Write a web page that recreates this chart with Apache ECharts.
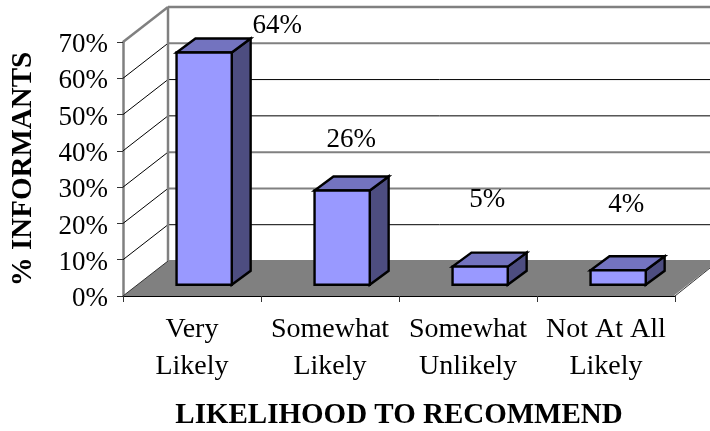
<!DOCTYPE html>
<html><head><meta charset="utf-8">
<style>html,body{margin:0;padding:0;background:#fff}#c{width:710px;height:431px}</style>
<script src="https://cdn.jsdelivr.net/npm/echarts@6/dist/echarts.min.js"></script>
</head><body><div id="c"></div>
<script>
const categories = ['Very\nLikely', 'Somewhat\nLikely', 'Somewhat\nUnlikely', 'Not At All\nLikely'];
const values = [64, 26, 5, 4];
const valueLabels = ['64%', '26%', '5%', '4%'];
const yTicks = [0, 10, 20, 30, 40, 50, 60, 70];

const FONT = '"Liberation Serif","Times New Roman",serif';
const DX = 45, DY = 35;
const BAR_D0 = 0.27, BAR_D1 = 0.69, BAR_W = 0.4, BAR_LIFT = 11.2;
const labelOffsets = [[73, -28], [9, -52], [7, -69], [8, -67]];
const greyLines = {0: 1, 30: 1, 20: 1, 60: 1, 70: 1};

function poly(points, fill, stroke, lw) {
  return {type: 'polygon', shape: {points}, style: {fill, stroke: stroke || null, lineWidth: lw || 0, lineJoin: 'miter'}};
}
function line(a, b, stroke, lw) {
  return {type: 'line', shape: {x1: a[0], y1: a[1], x2: b[0], y2: b[1]}, style: {stroke, lineWidth: lw}};
}
const chart = echarts.init(document.getElementById('c'));
chart.setOption({
  animation: false,
  backgroundColor: '#fff',
  grid: {left: 123, right: 35, top: 42, bottom: 135, outerBoundsMode: 'none'},
  xAxis: {
    type: 'category', data: categories, z: 6,
    name: 'LIKELIHOOD TO RECOMMEND', nameLocation: 'middle', nameGap: 105,
    nameTextStyle: {fontFamily: FONT, fontWeight: 'bold', fontSize: 29, color: '#000'},
    axisLine: {show: true, lineStyle: {color: '#000', width: 1}},
    axisTick: {show: true, length: 6, lineStyle: {color: '#333', width: 1}},
    axisLabel: {interval: 0, fontFamily: FONT, fontSize: 28, lineHeight: 37, color: '#000', margin: 15},
    splitLine: {show: false}
  },
  yAxis: {
    type: 'value', min: 0, max: 70, interval: 10,
    name: '% INFORMANTS', nameLocation: 'middle', nameGap: 85, nameRotate: 90,
    nameTextStyle: {fontFamily: FONT, fontWeight: 'bold', fontSize: 29, color: '#000'},
    axisLine: {show: true, lineStyle: {color: '#808080', width: 2.5}},
    axisTick: {show: true, length: 6, lineStyle: {color: '#333', width: 1}},
    axisLabel: {formatter: '{value}%', fontFamily: FONT, fontSize: 27, color: '#000', margin: 15, verticalAlign: 'top', lineHeight: 6},
    splitLine: {show: false}
  },
  series: [
    { // floor
      type: 'custom', z: 1, silent: true, clip: false, data: [[0, 0]],
      renderItem(p, api) {
        const w = api.size([1, 0])[0];
        const l = api.coord([0, 0]), r = api.coord([categories.length - 1, 0]);
        const x0 = l[0] - w / 2, x1 = r[0] + w / 2, y = l[1];
        return {type: 'group', children: [
          poly([[x0, y], [x1, y], [x1 + DX, y - DY], [x0 + DX, y - DY]], '#808080'),
          line([x1, y], [x1 + DX, y - DY], '#fff', 2),
          line([x1, y], [x1 + DX, y - DY - 1], '#333', 1)
        ]};
      }
    },
    { // back-wall and side-wall gridlines
      type: 'custom', z: 2, silent: true, clip: false,
      data: yTicks.map(v => [0, v]),
      renderItem(p, api) {
        const v = api.value(1);
        const w = api.size([1, 0])[0];
        const l = api.coord([0, v]), r = api.coord([categories.length - 1, v]);
        const x0 = l[0] - w / 2, x1 = r[0] + w / 2, y = l[1];
        const top = v === 70;
        const back = greyLines[v]
          ? line([x0 + DX, y - DY], [x1 + DX, y - DY], '#808080', top ? 2.5 : 2)
          : line([x0 + DX, y - DY], [x1 + DX, y - DY], '#000', 1);
        const side = top || v === 0
          ? line([x0, y], [x0 + DX, y - DY], v === 0 ? '#333' : '#808080', v === 0 ? 1 : 2.5)
          : line([x0, y], [x0 + DX, y - DY], '#000', 1);
        const children = [back, side];
        if (top) {
          const b = api.coord([0, 0]);
          children.push(line([x0 + DX, y - DY], [x0 + DX, b[1] - DY], '#808080', 2.5));
        }
        return {type: 'group', children};
      }
    },
    { // 3D bars
      type: 'custom', z: 3, silent: true, clip: false,
      data: values.map((v, i) => [i, v]),
      encode: {x: 0, y: 1},
      renderItem(p, api) {
        const i = api.value(0), v = api.value(1);
        const w = api.size([1, 0])[0] * BAR_W;
        const c0 = api.coord([i, 0]), c1 = api.coord([i, v]);
        const x0 = c0[0] - w / 2 + DX * BAR_D0, x1 = x0 + w;
        const yb = c0[1] - BAR_LIFT, yt = c1[1] - BAR_LIFT;
        const ox = DX * (BAR_D1 - BAR_D0), oy = 14;
        const s = '#000', lw = 2.4;
        return {type: 'group', children: [
          poly([[x1, yb], [x1 + ox, yb - oy], [x1 + ox, yt - oy], [x1, yt]], '#4d4d80', s, lw),
          poly([[x0, yt], [x1, yt], [x1 + ox, yt - oy], [x0 + ox, yt - oy]], '#7373bf', s, lw),
          poly([[x0, yb], [x1, yb], [x1, yt], [x0, yt]], '#9999ff', s, lw)
        ]};
      }
    },
    { // value labels
      type: 'custom', z: 4, silent: true, clip: false,
      data: values.map((v, i) => [i, v]),
      renderItem(p, api) {
        const i = api.value(0), v = api.value(1);
        const c = api.coord([i, v]);
        const o = labelOffsets[i];
        return {type: 'text', style: {
          x: c[0] + DX * BAR_D0 + o[0], y: c[1] - DY * BAR_D0 + o[1],
          text: valueLabels[i], fill: '#000', font: '27px ' + FONT, align: 'center', verticalAlign: 'middle'
        }};
      }
    }
  ]
});
</script></body></html>
